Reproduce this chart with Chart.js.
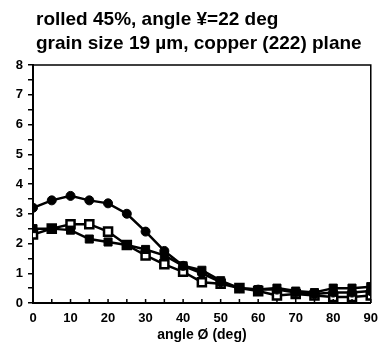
<!DOCTYPE html>
<html><head><meta charset="utf-8">
<script src="https://cdn.jsdelivr.net/npm/chart.js@4"></script>
<style>html,body{margin:0;padding:0;background:#fff}#wrap{width:386px;height:355px}</style>
</head><body><div id="wrap"><canvas id="c" width="386" height="355"></canvas></div>
<script>
const titleLines = ["rolled 45%, angle \u00A5=22 deg", "grain size 19 \u00B5m, copper (222) plane"];
const xAxisTitle = "angle \u00D8 (deg)";
const angles = [0,5,10,15,20,25,30,35,40,45,50,55,60,65,70,75,80,85,90];
const circleSeries = [3.2,3.45,3.6,3.45,3.35,3.0,2.4,1.75,1.25,1.0,0.7,0.5,0.45,0.45,0.35,0.3,0.35,0.35,0.4];
const filledSquareSeries = [2.5,2.5,2.45,2.15,2.05,1.95,1.8,1.6,1.25,1.1,0.75,0.5,0.45,0.5,0.4,0.35,0.5,0.5,0.55];
const openSquareSeries = [2.3,2.5,2.65,2.65,2.4,1.95,1.6,1.3,1.05,0.7,0.65,0.5,0.4,0.25,0.3,0.25,0.2,0.2,0.25];
const xTickLabels = [0,10,20,30,40,50,60,70,80,90];
const yTickLabels = [0,1,2,3,4,5,6,7,8];

const toXY = arr => arr.map((v,i)=>({x:angles[i], y:v}));
const FONT = "'Liberation Sans', Arial, Helvetica, sans-serif";

const extras = {
  id:'extras',
  afterDraw(chart){
    const ctx = chart.ctx, a = chart.chartArea, xs = chart.scales.x;
    ctx.save();
    ctx.strokeStyle = '#000'; ctx.lineWidth = 1.5;
    ctx.beginPath();
    ctx.moveTo(a.left, a.top); ctx.lineTo(a.right, a.top); ctx.lineTo(a.right, a.bottom);
    ctx.stroke();
    ctx.lineWidth = 1.5;
    xs.ticks.forEach(t=>{
      const px = xs.getPixelForValue(t.value);
      ctx.beginPath(); ctx.moveTo(px, a.bottom); ctx.lineTo(px, a.bottom-4); ctx.stroke();
    });
    ctx.fillStyle = '#000';
    ctx.font = "bold 19px " + FONT;
    ctx.textBaseline = 'middle'; ctx.textAlign = 'left';
    ctx.fillText(titleLines[0], 36, 20);
    ctx.fillText(titleLines[1], 36, 44);
    ctx.restore();
  }
};

new Chart(document.getElementById('c'), {
  type:'line',
  data:{datasets:[
    {label:'circles', data:toXY(circleSeries), borderColor:'#000', backgroundColor:'#000', borderWidth:2.5,
     pointStyle:'circle', pointRadius:4.5, pointBorderWidth:1, tension:0},
    {label:'filled squares', data:toXY(filledSquareSeries), borderColor:'#000', backgroundColor:'#000', borderWidth:2.5,
     pointStyle:'rect', pointRadius:5.7, pointBorderWidth:1, tension:0},
    {label:'open squares', data:toXY(openSquareSeries), borderColor:'#000', backgroundColor:'#000', borderWidth:2.5,
     pointStyle:'rect', pointRadius:5.7, pointBackgroundColor:'#fff', pointBorderColor:'#000', pointBorderWidth:2.5, tension:0}
  ]},
  options:{
    responsive:false, animation:false, devicePixelRatio:1,
    layout:{padding:{top:65,right:12,bottom:11,left:0}},
    plugins:{legend:{display:false}, title:{display:false}, tooltip:{enabled:false}},
    scales:{
      x:{type:'linear', min:0, max:90,
        afterFit(s){ s.height = 41; },
        border:{display:true, color:'#000', width:2},
        grid:{drawOnChartArea:false, drawTicks:false},
        ticks:{stepSize:5, autoSkip:false, maxRotation:0, padding:8, color:'#000',
          font:{family:FONT, size:13, weight:'bold'},
          callback:(v)=> xTickLabels.includes(v) ? String(v) : ''},
        title:{display:true, text:xAxisTitle, color:'#000', font:{family:FONT, size:14, weight:'bold'}, padding:{top:4,bottom:0}}
      },
      y:{type:'linear', min:0, max:8,
        afterFit(s){ s.width = 33; },
        border:{display:true, color:'#000', width:2},
        grid:{drawOnChartArea:false, drawTicks:true, tickLength:5, color:'#000', lineWidth:1.5},
        ticks:{stepSize:0.5, autoSkip:false, padding:5, color:'#000',
          font:{family:FONT, size:13, weight:'bold'},
          callback:(v)=> yTickLabels.includes(v) ? String(v) : ''}
      }
    }
  },
  plugins:[extras]
});
</script></body></html>
